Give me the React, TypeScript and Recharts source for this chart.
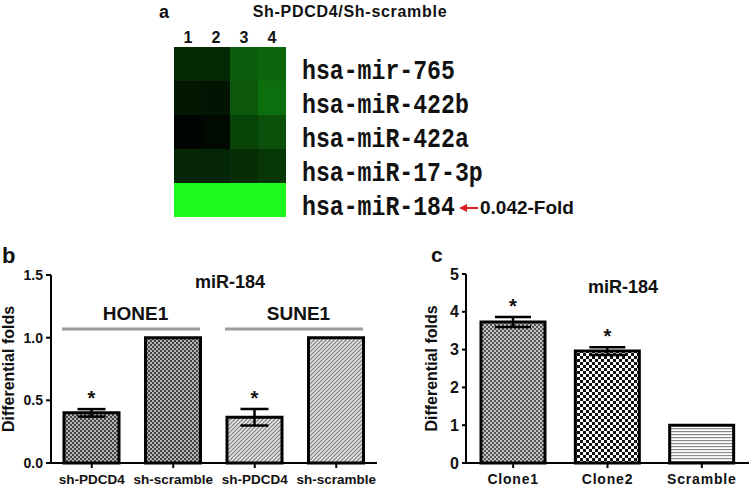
import React from 'react';
import {
  Bar,
  BarChart,
  Cell,
  ComposedChart,
  ErrorBar,
  LabelList,
  ReferenceArea,
  XAxis,
  YAxis,
} from 'recharts';

const FONT = '"Liberation Sans", Arial, sans-serif';
const MONO = '"Liberation Mono", "Courier New", monospace';
const INK = '#111';

// panel a: heatmap (rows = miRNAs, columns = samples)
const heatRows = ['hsa-mir-765', 'hsa-miR-422b', 'hsa-miR-422a', 'hsa-miR-17-3p', 'hsa-miR-184'];
const heatCols = ['1', '2', '3', '4'];
const heatLevels = [
  [0.16, 0.16, 0.37, 0.41],
  [0.09, 0.08, 0.35, 0.44],
  [0.02, 0.04, 0.27, 0.32],
  [0.15, 0.15, 0.18, 0.22],
  [1, 1, 1, 1],
];
const heatColTicks = [0.5, 1.5, 2.5, 3.5];
const heatNoteRow = 'hsa-miR-184';
const heatNote = '0.042-Fold';

// panel b
const bGroups = ['HONE1', 'HONE1', 'SUNE1', 'SUNE1'];
const bSamples = ['sh-PDCD4', 'sh-scramble', 'sh-PDCD4', 'sh-scramble'];
const bMeans = [0.4, 1.0, 0.365, 1.0];
const bErrs = [0.03, 0, 0.066, 0];
const bMarks = ['*', '', '*', ''];
const bTicks = [0, 0.5, 1, 1.5];

// panel c
const cSamples = ['Clone1', 'Clone2', 'Scramble'];
const cMeans = [3.73, 2.96, 1.0];
const cErrs = [0.13, 0.1, 0];
const cMarks = ['*', '*', ''];
const cTicks = [0, 1, 2, 3, 4, 5];

const bFills = ['url(#pDark)', 'url(#pDark)', 'url(#pDiag)', 'url(#pDiag)'];
const cFills = ['url(#pFine)', 'url(#pCoarse)', 'url(#pStripe)'];

const green = (v: number) =>
  `rgb(${Math.round(v * 30)},${Math.round(v * 250)},${Math.round(v * 30)})`;

const heatData = heatRows.map((row) => {
  const d: any = { row };
  heatCols.forEach((_, j) => (d[`c${j}`] = 1));
  return d;
});

const bData = bSamples.map((s, i) => ({
  key: `${bGroups[i]}|${s}`,
  value: bMeans[i],
  err: bErrs[i],
  mark: bMarks[i],
}));

const cData = cSamples.map((s, i) => ({
  key: s,
  value: cMeans[i],
  err: cErrs[i],
  mark: cMarks[i],
}));

const HeatTick = (props: any) => {
  const { x, y, payload } = props;
  const name: string = payload.value;
  const noted = name === heatNoteRow;
  return (
    <g>
      <text
        x={x}
        y={y + 15}
        fontFamily={MONO}
        fontWeight="bold"
        fontSize={27}
        fill={INK}
        textLength={name.length * 13.9}
        lengthAdjust="spacingAndGlyphs"
      >
        {name}
      </text>
      {noted && (
        <g>
          <line x1={x + 163} y1={y + 8} x2={x + 176} y2={y + 8} stroke="#e02020" strokeWidth={2} />
          <path d={`M${x + 157},${y + 8} L${x + 165},${y + 4} L${x + 165},${y + 12} Z`} fill="#e02020" />
          <text x={x + 178} y={y + 14} fontFamily={FONT} fontWeight="bold" fontSize={19} fill={INK}>
            {heatNote}
          </text>
        </g>
      )}
    </g>
  );
};

const starLabel = (values: number[], errs: number[]) => (props: any) => {
  const { index, value } = props;
  if (!value) return null;
  const vb = props.viewBox ?? props;
  const x = vb.x ?? props.x;
  const y = vb.y ?? props.y;
  const width = vb.width ?? props.width;
  const height = Math.abs(vb.height ?? props.height);
  const top = y - errs[index] * (height / values[index]);
  return (
    <text x={x + width / 2} y={top - 4} textAnchor="middle" fontFamily={FONT} fontWeight="bold" fontSize={20} fill={INK}>
      {value}
    </text>
  );
};

const GroupBracket = (props: any) => {
  const { x, y, width, height, label } = props;
  return (
    <g>
      <line x1={x + 11} x2={x + width - 14} y1={y + height} y2={y + height} stroke="#9a9a9a" strokeWidth={3} />
      <text x={x + width / 2 + 3} y={y + 7} textAnchor="middle" fontFamily={FONT} fontWeight="bold" fontSize={19} fill={INK}>
        {label}
      </text>
    </g>
  );
};

const axisStroke = { stroke: '#000', strokeWidth: 2 };
const tickFont = { fill: INK, fontSize: 14, fontWeight: 'bold', fontFamily: FONT };
const yLabel = (offset: number) => ({
  value: 'Differential folds',
  angle: -90,
  position: 'insideLeft' as const,
  offset,
  style: { textAnchor: 'middle', fontSize: 16, fontWeight: 'bold', fill: INK, fontFamily: FONT },
});

const abs = (left: number, top: number): React.CSSProperties => ({ position: 'absolute', left, top });

export default function App() {
  const bGroupNames = Array.from(new Set(bGroups));
  return (
    <div style={{ position: 'absolute', left: 0, top: 0, width: 754, height: 488, background: '#fff', overflow: 'hidden' }}>
      <svg width={0} height={0} style={{ position: 'absolute' }}>
        <defs>
          <pattern id="pDark" width={4} height={4} patternUnits="userSpaceOnUse">
            <rect width={4} height={4} fill="#b4b4b4" />
            <rect width={2} height={2} fill="#444" />
            <rect x={2} y={2} width={2} height={2} fill="#444" />
          </pattern>
          <pattern id="pFine" width={4} height={4} patternUnits="userSpaceOnUse">
            <rect width={4} height={4} fill="#c4c4c4" />
            <rect width={2} height={2} fill="#555" />
            <rect x={2} y={2} width={2} height={2} fill="#555" />
          </pattern>
          <pattern id="pDiag" width={4} height={4} patternUnits="userSpaceOnUse">
            <rect width={4} height={4} fill="#e4e4e4" />
            <path d="M0,4 L4,0 M-1,1 L1,-1 M3,5 L5,3" stroke="#7c7c7c" strokeWidth={1.1} />
          </pattern>
          <pattern id="pCoarse" width={6} height={6} patternUnits="userSpaceOnUse">
            <rect width={6} height={6} fill="#fff" />
            <rect width={3} height={3} fill="#111" />
            <rect x={3} y={3} width={3} height={3} fill="#111" />
          </pattern>
          <pattern id="pStripe" width={4} height={3} patternUnits="userSpaceOnUse">
            <rect width={4} height={3} fill="#fff" />
            <rect width={4} height={1.2} fill="#8a8a8a" />
          </pattern>
        </defs>
      </svg>

      <div style={abs(0, 0)}>
        <BarChart
          width={754}
          height={230}
          data={heatData}
          layout="vertical"
          barCategoryGap={0}
          margin={{ top: 27, right: 168, bottom: 13, left: 174 }}
        >
          <XAxis
            type="number"
            orientation="top"
            domain={[0, heatCols.length]}
            ticks={heatColTicks}
            tickFormatter={(v: number) => heatCols[Math.floor(v)]}
            axisLine={false}
            tickLine={false}
            tickSize={0}
            tickMargin={4}
            height={20}
            tick={{ fill: INK, fontSize: 16, fontWeight: 'bold', fontFamily: FONT }}
          />
          <YAxis
            type="category"
            dataKey="row"
            orientation="right"
            width={300}
            axisLine={false}
            tickLine={false}
            tickSize={0}
            tickMargin={16}
            interval={0}
            tick={<HeatTick />}
          />
          {heatCols.map((_, j) => (
            <Bar key={j} dataKey={`c${j}`} stackId="h" isAnimationActive={false}>
              {heatRows.map((r, i) => (
                <Cell key={r} fill={green(heatLevels[i][j])} />
              ))}
            </Bar>
          ))}
        </BarChart>
      </div>

      <div style={abs(0, 230)}>
        <ComposedChart width={390} height={258} data={bData} margin={{ top: 45, right: 13, bottom: 5, left: 0 }}>
          <XAxis
            dataKey="key"
            interval={0}
            tickFormatter={(k: string) => k.split('|')[1]}
            axisLine={axisStroke}
            tickLine={axisStroke}
            tickSize={5}
            tickMargin={6}
            height={20}
            tick={{ ...tickFont, fontSize: 13.5 }}
          />
          <YAxis
            domain={[0, 1.5]}
            ticks={bTicks}
            tickFormatter={(v: number) => v.toFixed(1)}
            width={51}
            axisLine={axisStroke}
            tickLine={axisStroke}
            tickSize={5}
            tickMargin={3}
            tick={tickFont}
            label={yLabel(8)}
          />
          {bGroupNames.map((g) => {
            const keys = bData.filter((d) => d.key.startsWith(g + '|')).map((d) => d.key);
            return (
              <ReferenceArea
                key={g}
                x1={keys[0]}
                x2={keys[keys.length - 1]}
                y1={1.07}
                y2={1.2}
                shape={(p: any) => <GroupBracket {...p} label={g} />}
              />
            );
          })}
          <Bar dataKey="value" barSize={55} stroke="#000" strokeWidth={3} isAnimationActive={false}>
            {bData.map((d, i) => (
              <Cell key={d.key} fill={bFills[i]} />
            ))}
            <ErrorBar dataKey="err" direction="y" width={14} stroke="#000" strokeWidth={2.5} isAnimationActive={false} />
            <LabelList dataKey="mark" content={starLabel(bMeans, bErrs)} />
          </Bar>
        </ComposedChart>
      </div>

      <div style={abs(400, 230)}>
        <ComposedChart width={354} height={258} data={cData} margin={{ top: 44, right: 5, bottom: 5, left: 0 }}>
          <XAxis
            dataKey="key"
            interval={0}
            axisLine={axisStroke}
            tickLine={axisStroke}
            tickSize={5}
            tickMargin={6}
            height={20}
            tick={{ ...tickFont, letterSpacing: 0.8 }}
          />
          <YAxis
            domain={[0, 5]}
            ticks={cTicks}
            width={66}
            axisLine={axisStroke}
            tickLine={axisStroke}
            tickSize={4}
            tickMargin={3}
            tick={{ ...tickFont, fontSize: 16 }}
            label={yLabel(31)}
          />
          <Bar dataKey="value" barSize={64} stroke="#000" strokeWidth={3} isAnimationActive={false}>
            {cData.map((d, i) => (
              <Cell key={d.key} fill={cFills[i]} />
            ))}
            <ErrorBar dataKey="err" direction="y" width={18} stroke="#000" strokeWidth={2.5} isAnimationActive={false} />
            <LabelList dataKey="mark" content={starLabel(cMeans, cErrs)} />
          </Bar>
        </ComposedChart>
      </div>

      <svg width={754} height={488} style={{ position: 'absolute', left: 0, top: 0, pointerEvents: 'none' }}>
        <g fontFamily={FONT} fontWeight="bold" fill={INK}>
          <text x={159} y={18} fontSize={18}>a</text>
          <text x={350} y={17} fontSize={16} letterSpacing={0.7} textAnchor="middle">Sh-PDCD4/Sh-scramble</text>
          <text x={2} y={263} fontSize={22}>b</text>
          <text x={230} y={288} fontSize={18} textAnchor="middle">miR-184</text>
          <text x={431} y={262} fontSize={21}>c</text>
          <text x={623} y={293} fontSize={18} textAnchor="middle">miR-184</text>
        </g>
      </svg>
    </div>
  );
}
